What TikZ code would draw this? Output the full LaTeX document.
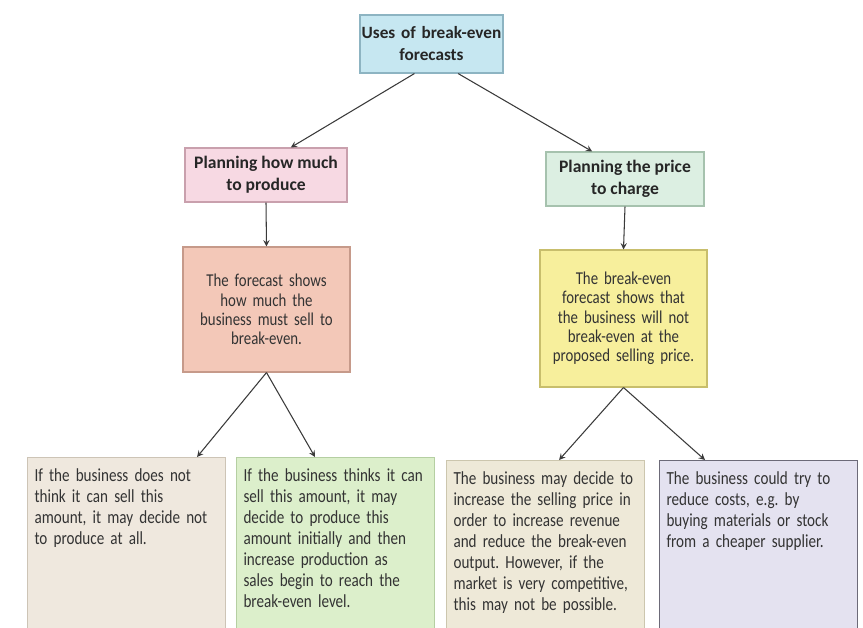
\documentclass[tikz,border=0pt]{standalone}
\usepackage{fontspec}
\setmainfont{Carlito}[FakeStretch=0.82]
\newfontfamily\headfont{Carlito}
\frenchspacing
\definecolor{topfill}{HTML}{C6E7F1}
\definecolor{topline}{HTML}{8DB4C2}
\definecolor{pinkfill}{HTML}{F7D9E3}
\definecolor{pinkline}{HTML}{C9A0AD}
\definecolor{mintfill}{HTML}{DCEFE2}
\definecolor{mintline}{HTML}{A6C2AE}
\definecolor{salmonfill}{HTML}{F3C8B8}
\definecolor{salmonline}{HTML}{C69A8A}
\definecolor{lemonfill}{HTML}{F7EF9C}
\definecolor{lemonline}{HTML}{C8BE6C}
\definecolor{sandfill}{HTML}{EFE8DE}
\definecolor{sandline}{HTML}{CDC4B6}
\definecolor{limefill}{HTML}{DCEFCB}
\definecolor{limeline}{HTML}{B5CFA2}
\definecolor{creamfill}{HTML}{EEE9D8}
\definecolor{creamline}{HTML}{CCC6AE}
\definecolor{lilacfill}{HTML}{E4E2F0}
\definecolor{lilacline}{HTML}{6C6A78}
\definecolor{arrowgray}{HTML}{3A3A3A}
\begin{document}
\begin{tikzpicture}[>=stealth,x=1cm,y=1cm,
	topic/.style={draw=topline,fill=topfill,line width=0.6pt,font=\headfont\fontsize{9.8}{12.5}\selectfont\bfseries,
		text=black!85,align=center,minimum width=2.86cm,minimum height=1.16cm,text width=2.86cm,inner sep=0pt},
	plan/.style={draw,line width=0.6pt,font=\headfont\fontsize{10}{12.5}\selectfont\bfseries,text=black!85,
		align=center,minimum height=1.08cm,inner sep=0pt},
	forecast/.style={draw,line width=0.6pt,font=\fontsize{10.3}{11}\selectfont,text=black!80,
		align=center,minimum width=3.34cm,text width=3.3cm,inner sep=0pt},
	outcome/.style={draw,line width=0.6pt,font=\fontsize{10.5}{12}\selectfont,text=black!80,
		align=left,anchor=north west,text width=3.68cm,inner xsep=0.14cm,inner ysep=0.22cm,text depth=3.2cm},
	link/.style={->,draw=arrowgray,line width=0.6pt}]
	\useasboundingbox[fill=white] (0,0) rectangle (17.26,-12.56);
	% top and second row
	\node[topic] (uses) at (8.63,-0.88) {Uses of break-even\\forecasts};
	\node[plan,draw=pinkline,fill=pinkfill,minimum width=3.24cm] (howmuch) at (5.32,-3.50) {Planning how much\\to produce};
	\node[plan,draw=mintline,fill=mintfill,minimum width=3.16cm] (price) at (12.50,-3.58) {Planning the price\\to charge};
	% forecasts
	\node[forecast,draw=salmonline,fill=salmonfill,minimum height=2.5cm] (sell) at (5.33,-6.19)
		{The forecast shows\\how much the\\business must sell to\\break-even.};
	\node[forecast,draw=lemonline,fill=lemonfill,minimum height=2.74cm] (notbe) at (12.47,-6.37)
		{The break-even\\forecast shows that\\the business will not\\break-even at the\\proposed selling price.};
	% outcomes
	\node[outcome,draw=sandline,fill=sandfill] (noprod) at (0.54,-9.14)
		{If the business does not\\think it can sell this\\amount, it may decide not\\to produce at all.};
	\node[outcome,draw=limeline,fill=limefill] (initial) at (4.72,-9.14)
		{If the business thinks it can\\sell this amount, it may\\decide to produce this\\amount initially and then\\increase production as\\sales begin to reach the\\break-even level.};
	\node[outcome,draw=creamline,fill=creamfill] (raise) at (8.92,-9.20)
		{The business may decide to\\increase the selling price in\\order to increase revenue\\and reduce the break-even\\output. However, if the\\market is very competitive,\\this may not be possible.};
	\node[outcome,draw=lilacline,fill=lilacfill] (costs) at (13.18,-9.20)
		{The business could try to\\reduce costs, e.g. by\\buying materials or stock\\from a cheaper supplier.};
	% arrows
	\draw[link] (uses.240) -- (howmuch.48);
	\draw[link] (uses.-48) -- (price.140);
	\draw[link] (howmuch.south) -- (sell.north);
	\draw[link] (price.south) -- (notbe.north);
	\draw[link] (sell.south) -- ([xshift=-5.8mm]noprod.north east);
	\draw[link] (sell.south) -- ([xshift=15.8mm]initial.north west);
	\draw[link] (notbe.south) -- ([xshift=-17.2mm]raise.north east);
	\draw[link] (notbe.south) -- ([xshift=9.2mm]costs.north west);
\end{tikzpicture}
\end{document}
